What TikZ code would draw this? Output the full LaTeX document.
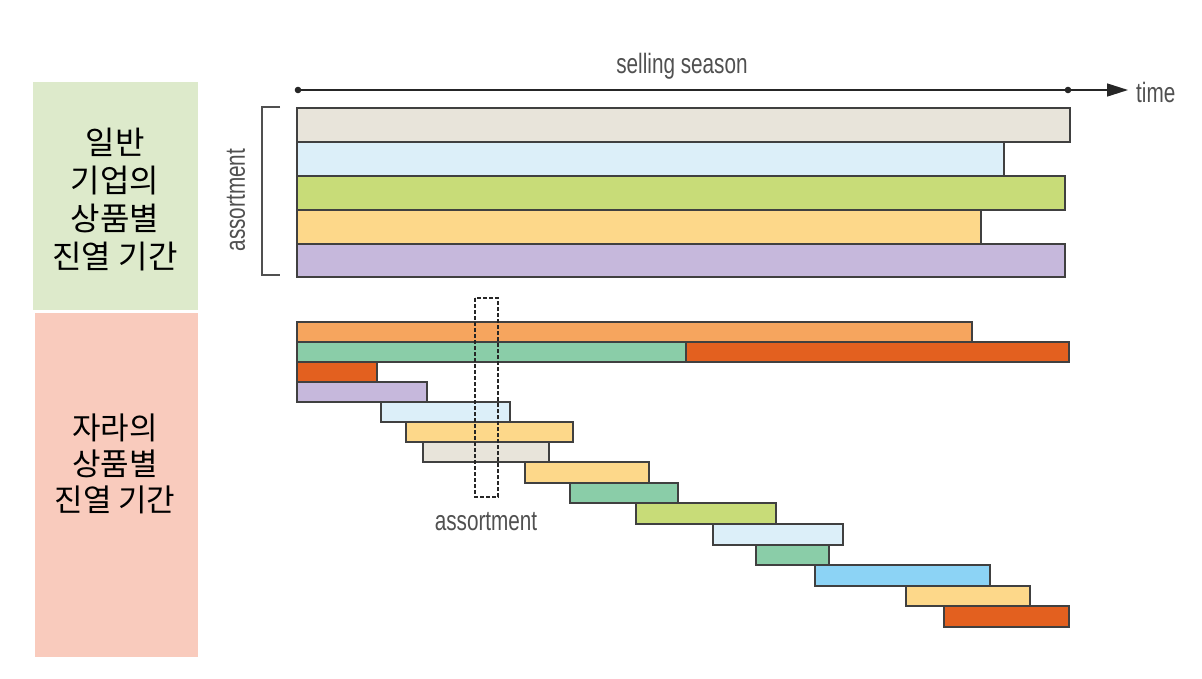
\documentclass[tikz,border=0pt]{standalone}
\usepackage{fontspec}
\usetikzlibrary{arrows.meta}
\newfontfamily\kr{Noto Sans CJK KR}
\newfontfamily\narrow[FakeStretch=0.74]{Liberation Sans}
\definecolor{gbox}{HTML}{DDEACB}
\definecolor{pbox}{HTML}{F9CBBD}
\definecolor{cbeige}{HTML}{E8E4DA}
\definecolor{clblue}{HTML}{DCEFF9}
\definecolor{clime}{HTML}{C8DC78}
\definecolor{cyellow}{HTML}{FDD88A}
\definecolor{clav}{HTML}{C6B8DC}
\definecolor{corange}{HTML}{F6A55E}
\definecolor{cteal}{HTML}{8ACDA8}
\definecolor{cred}{HTML}{E3601F}
\definecolor{cblue}{HTML}{8CD3F5}
\definecolor{lbl}{HTML}{505050}
\tikzset{
  bar/.style={draw=black!75, line width=1.3pt},
  krtext/.style={font=\kr\fontsize{32}{38}\selectfont, align=center, text=black},
  entext/.style={font=\narrow\fontsize{28}{30}\selectfont, text=lbl, inner sep=0pt},
}
\begin{document}
\begin{tikzpicture}[x=1pt,y=-1pt]
\useasboundingbox (0,0) rectangle (1202,678);
% left boxes
\fill[gbox] (33,82) rectangle (198,310);
\fill[pbox] (35,313) rectangle (198,657);
\node[krtext] (gtxt) at (115,200) {일반\\기업의\\상품별\\진열 기간};
\node[krtext, font=\kr\fontsize{31}{36}\selectfont] (ptxt) at (115,464) {자라의\\상품별\\진열 기간};
% time axis
\coordinate (s) at (298,90);
\coordinate (e) at (1068,90);
\coordinate (t) at (1128,90);
\draw[line width=1.5pt, black!85, -{Triangle[length=21pt,width=13pt]}] (s) -- (t);
\fill[black!85] (s) circle (3.3);
\fill[black!85] (e) circle (3.3);
\node[entext, anchor=west] (time) at (1136,92) {time};
\node[entext] (season) at (682,66) {selling season};
% bracket
\draw[lbl, line width=1.2pt] (280,107) -- (262,107) -- (262,275) -- (280,275);
\node[entext, rotate=90] (assort1) at (236,200) {assortment};
% top bars
\draw[bar, fill=cbeige] (297,108) rectangle (1070,142);
\draw[bar, fill=clblue] (297,142) rectangle (1004,176);
\draw[bar, fill=clime] (297,176) rectangle (1065,210);
\draw[bar, fill=cyellow] (297,210) rectangle (981,244);
\draw[bar, fill=clav] (297,244) rectangle (1065,277);
% lower bars
\draw[bar, fill=corange] (297,322) rectangle (972,342);
\draw[bar, fill=cteal] (297,342) rectangle (686,362);
\draw[bar, fill=cred] (686,342) rectangle (1069,362);
\draw[bar, fill=cred] (297,362) rectangle (377,382);
\draw[bar, fill=clav] (297,382) rectangle (427,402);
\draw[bar, fill=clblue] (381,402) rectangle (510,422);
\draw[bar, fill=cyellow] (406,422) rectangle (573,442);
\draw[bar, fill=cbeige] (423,442) rectangle (549,462);
\draw[bar, fill=cyellow] (525,462) rectangle (649,483);
\draw[bar, fill=cteal] (570,483) rectangle (678,503);
\draw[bar, fill=clime] (636,503) rectangle (776,524);
\draw[bar, fill=clblue] (713,524) rectangle (843,545);
\draw[bar, fill=cteal] (756,545) rectangle (829,565);
\draw[bar, fill=cblue] (815,565) rectangle (990,586);
\draw[bar, fill=cyellow] (906,586) rectangle (1030,606);
\draw[bar, fill=cred] (944,606) rectangle (1069,627);
% dashed window
\draw[black!85, line width=1.4pt, dash pattern=on 4pt off 2pt] (475,298) rectangle (498,497);
\node[entext] (assort2) at (486,522) {assortment};
\end{tikzpicture}
\end{document}
